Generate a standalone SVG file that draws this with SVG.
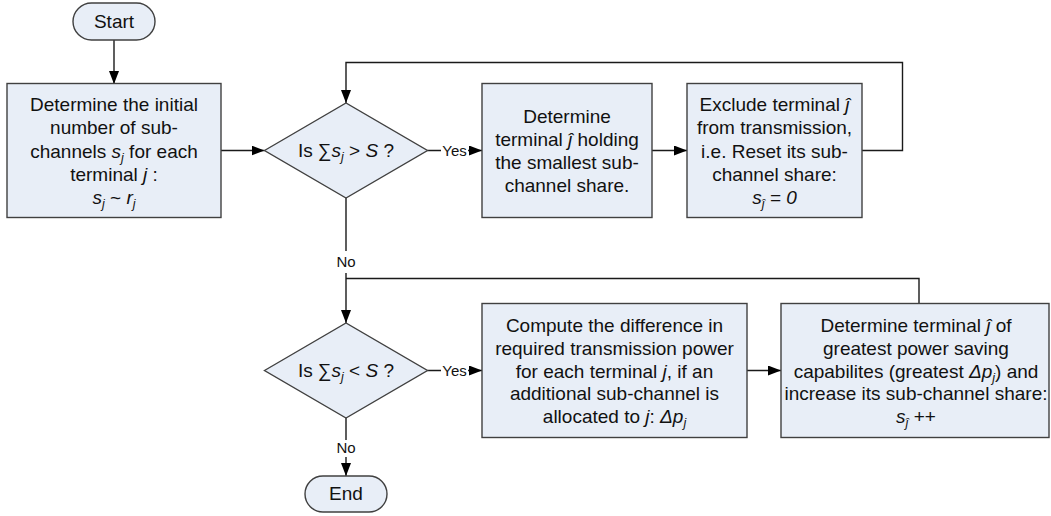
<svg xmlns="http://www.w3.org/2000/svg" width="1051" height="516" viewBox="0 0 1051 516">
  <style>
    .shape { fill: #e8eef7; stroke: #404040; stroke-width: 1.4; }
    .txt { font-family: "Liberation Sans", Arial, sans-serif; font-size: 19px; fill: #111; text-anchor: middle; }
    .lbl { font-family: "Liberation Sans", Arial, sans-serif; font-size: 15px; fill: #111; text-anchor: middle; }
    .i { font-style: italic; }
    .sub { font-size: 12.5px; font-style: italic; }
    .conn { fill: none; stroke: #1a1a1a; stroke-width: 1.4; }
    .arrow { marker-end: url(#head); }
  </style>
  <defs>
    <marker id="head" markerUnits="userSpaceOnUse" viewBox="0 0 13 10" refX="13" refY="5" markerWidth="13" markerHeight="10" orient="auto">
      <path d="M0,0 L13,5 L0,10 Z" fill="#000"/>
    </marker>
  </defs>

  <!-- connectors -->
  <g id="connectors">
    <path class="conn arrow" d="M114,40 V84"/>
    <path class="conn arrow" d="M221,150.5 H264.5"/>
    <path class="conn arrow" d="M427.5,150.5 H441 M468,150.5 H482"/>
    <path class="conn arrow" d="M652,150.5 H687"/>
    <path class="conn arrow" d="M862,150.5 H902.5 V62.5 H346 V103"/>
    <path class="conn arrow" d="M346,198 V251 M346,273 V323"/>
    <path class="conn" d="M919,303 V278.5 H346"/>
    <path class="conn arrow" d="M427.5,370.5 H441 M468,370.5 H482"/>
    <path class="conn arrow" d="M747,370.5 H781"/>
    <path class="conn arrow" d="M346,418 V440 M346,457 V476"/>
    <text class="lbl" x="454.5" y="155.5">Yes</text>
    <text class="lbl" x="346" y="266.5">No</text>
    <text class="lbl" x="454.5" y="375.5">Yes</text>
    <text class="lbl" x="346" y="453">No</text>
  </g>

  <g id="start">
    <rect class="shape" x="73" y="3" width="82" height="37" rx="18.5"/>
    <text class="txt" x="114" y="28">Start</text>
  </g>

  <g id="init-subchannels">
    <rect class="shape" x="7" y="83.5" width="214" height="134"/>
    <text class="txt" x="114" y="111">Determine the initial</text>
    <text class="txt" x="114" y="134">number of sub-</text>
    <text class="txt" x="114" y="157.5">channels <tspan class="i">s</tspan><tspan class="sub" dy="4">j</tspan><tspan dy="-4"> for each</tspan></text>
    <text class="txt" x="114" y="181">terminal <tspan class="i">j</tspan> :</text>
    <text class="txt" x="114" y="204"><tspan class="i">s</tspan><tspan class="sub" dy="4">j</tspan><tspan dy="-4"> ~ </tspan><tspan class="i">r</tspan><tspan class="sub" dy="4">j</tspan></text>
  </g>

  <g id="check-greater">
    <polygon class="shape" points="264.5,150.5 346,103 427.5,150.5 346,198"/>
    <text class="txt" x="346" y="156.5">Is ∑<tspan class="i">s</tspan><tspan class="sub" dy="4">j</tspan><tspan dy="-4"> &gt; </tspan><tspan class="i">S</tspan> ?</text>
  </g>

  <g id="find-smallest">
    <rect class="shape" x="482" y="83.5" width="170" height="134"/>
    <text class="txt" x="567" y="123">Determine</text>
    <text class="txt" x="567" y="146">terminal <tspan class="i">ĵ</tspan> holding</text>
    <text class="txt" x="567" y="169">the smallest sub-</text>
    <text class="txt" x="567" y="192">channel share.</text>
  </g>

  <g id="exclude-terminal">
    <rect class="shape" x="687" y="83.5" width="175" height="134"/>
    <text class="txt" x="774.5" y="111">Exclude terminal <tspan class="i">ĵ</tspan></text>
    <text class="txt" x="774.5" y="134">from transmission,</text>
    <text class="txt" x="774.5" y="157.5">i.e. Reset its sub-</text>
    <text class="txt" x="774.5" y="181">channel share:</text>
    <text class="txt i" x="774.5" y="204">s<tspan class="sub" dy="4">ĵ</tspan><tspan dy="-4"> = 0</tspan></text>
  </g>

  <g id="check-less">
    <polygon class="shape" points="264.5,370.5 346,323 427.5,370.5 346,418"/>
    <text class="txt" x="346" y="376.5">Is ∑<tspan class="i">s</tspan><tspan class="sub" dy="4">j</tspan><tspan dy="-4"> &lt; </tspan><tspan class="i">S</tspan> ?</text>
  </g>

  <g id="compute-difference">
    <rect class="shape" x="482" y="303.5" width="265" height="134"/>
    <text class="txt" x="614.5" y="332">Compute the difference in</text>
    <text class="txt" x="614.5" y="355">required transmission power</text>
    <text class="txt" x="614.5" y="377.5">for each terminal <tspan class="i">j</tspan>, if an</text>
    <text class="txt" x="614.5" y="400">additional sub-channel is</text>
    <text class="txt" x="614.5" y="423">allocated to <tspan class="i">j</tspan>: <tspan class="i">Δp</tspan><tspan class="sub" dy="4">j</tspan></text>
  </g>

  <g id="increase-share">
    <rect class="shape" x="781" y="303.5" width="268" height="134"/>
    <text class="txt" x="916" y="332">Determine terminal <tspan class="i">ĵ</tspan> of</text>
    <text class="txt" x="916" y="355">greatest power saving</text>
    <text class="txt" x="916" y="377.5">capabilites (greatest <tspan class="i">Δp</tspan><tspan class="sub" dy="4">j</tspan><tspan dy="-4">) and</tspan></text>
    <text class="txt" x="916" y="400">increase its sub-channel share:</text>
    <text class="txt" x="916" y="423"><tspan class="i">s</tspan><tspan class="sub" dy="4">ĵ</tspan><tspan dy="-4"> ++</tspan></text>
  </g>

  <g id="end">
    <rect class="shape" x="305" y="476" width="82" height="36" rx="18"/>
    <text class="txt" x="346" y="500">End</text>
  </g>
</svg>
